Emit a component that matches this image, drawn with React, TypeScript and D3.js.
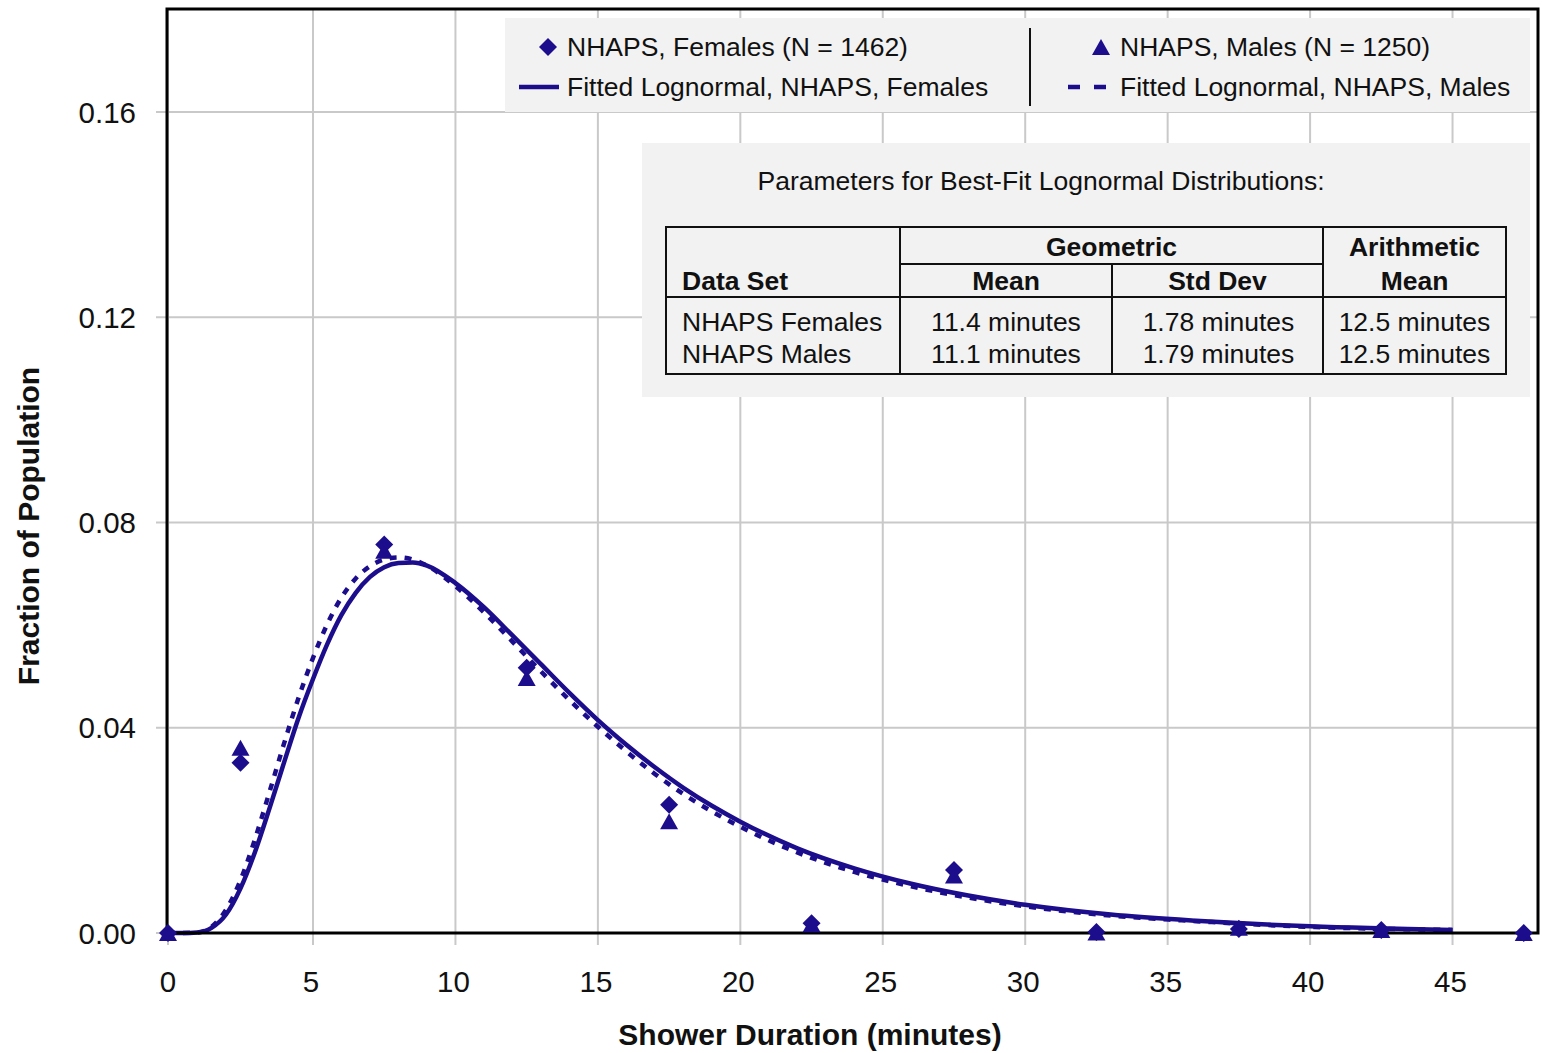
import React from "react";
import * as d3 from "d3";

// ---- data ----
const binMinutes = [0, 2.5, 7.5, 12.5, 17.5, 22.5, 27.5, 32.5, 37.5, 42.5, 47.5];
const femaleFractions = [0.0, 0.0332, 0.0757, 0.0517, 0.025, 0.0019, 0.0123, 0.0002, 0.0008, 0.0006, 0.0];
const maleFractions = [0.0, 0.0361, 0.0745, 0.0497, 0.0218, 0.0017, 0.0112, 0.0001, 0.001, 0.0006, 0.0];

const curveMinutes = [0, 0.5, 1, 1.5, 2, 2.5, 3, 3.5, 4, 4.5, 5, 5.5, 6, 6.5, 7, 7.5, 8, 8.5, 9, 10, 11, 12, 13, 14, 15, 16, 17, 18, 19, 20, 22, 24, 26, 28, 30, 33, 36, 40, 45];
const femaleFit = [0, 0, 0.0001, 0.001, 0.0036, 0.0087, 0.0158, 0.0243, 0.0332, 0.0419, 0.0495, 0.0563, 0.062, 0.0663, 0.0694, 0.0713, 0.0721, 0.0722, 0.0716, 0.0682, 0.0635, 0.058, 0.0524, 0.0468, 0.0415, 0.0367, 0.0323, 0.0283, 0.0248, 0.0217, 0.0165, 0.0126, 0.0096, 0.0073, 0.0055, 0.0036, 0.0024, 0.0013, 0.0006];
const maleFit = [0, 0, 0.0001, 0.0012, 0.0045, 0.0103, 0.0183, 0.0275, 0.0369, 0.0458, 0.0536, 0.0602, 0.0654, 0.0691, 0.0715, 0.0728, 0.0732, 0.0728, 0.0716, 0.0676, 0.0625, 0.0568, 0.051, 0.0454, 0.0402, 0.0354, 0.031, 0.0271, 0.0237, 0.0207, 0.0157, 0.0119, 0.0091, 0.0069, 0.0052, 0.0034, 0.0023, 0.0012, 0.0006];

const xTicks = [0, 5, 10, 15, 20, 25, 30, 35, 40, 45];
const yTicks = [0, 0.04, 0.08, 0.12, 0.16];

const legendLabels = [
  "NHAPS, Females (N = 1462)",
  "Fitted Lognormal, NHAPS, Females",
  "NHAPS, Males (N = 1250)",
  "Fitted Lognormal, NHAPS, Males",
];

const tableTitle = "Parameters for Best-Fit Lognormal Distributions:";
const tableRows = [
  ["NHAPS Females", "11.4 minutes", "1.78 minutes", "12.5 minutes"],
  ["NHAPS Males", "11.1 minutes", "1.79 minutes", "12.5 minutes"],
];

// ---- styling ----
const W = 1542;
const H = 1053;
const plot = { left: 167, right: 1538, top: 9, bottom: 933 };
const BLUE = "#1c0d8c";
const GRID = "#c9c9c9";
const FONT = "'Liberation Sans', Arial, Helvetica, sans-serif";

// marker shapes (centred on the data point)
const DIAMOND = "M0,-9L9,0L0,9L-9,0Z";
const TRIANGLE = "M0,-8L9,8L-9,8Z";

export default function App() {
  const x = d3.scaleLinear().domain([0, 5, 48]).range([168, 313, plot.right]);
  const y = d3.scaleLinear().domain([0, 0.18]).range([plot.bottom, plot.top + 0.5]);

  const lineGen = (vals: number[]) =>
    d3
      .line<number>()
      .x((_, i) => x(curveMinutes[i]))
      .y((d) => y(d))
      .curve(d3.curveMonotoneX)(vals) || "";

  // table geometry
  const tX = [666, 900, 1112, 1323, 1506];
  const tY = [227, 264, 297, 374];

  return (
    <svg
      width={W}
      height={H}
      style={{ position: "absolute", left: 0, top: 0, background: "#fff" }}
      fontFamily={FONT}
    >
      {/* grid + ticks */}
      {xTicks.map((t) => (
        <line key={"gx" + t} x1={x(t)} x2={x(t)} y1={plot.top} y2={plot.bottom + 12} stroke={GRID} strokeWidth={2} />
      ))}
      {yTicks.map((t) => (
        <line key={"gy" + t} x1={plot.left - 11} x2={plot.right} y1={y(t)} y2={y(t)} stroke={GRID} strokeWidth={2} />
      ))}

      {/* tick labels */}
      {xTicks.map((t) => (
        <text key={"xl" + t} x={x(t) - (t > 0 ? 2 : 0)} y={981} textAnchor="middle" dominantBaseline="central" fontSize={29.5} fill="#111">
          {t}
        </text>
      ))}
      {yTicks.map((t) => (
        <text key={"yl" + t} x={136} y={y(t)} textAnchor="end" dominantBaseline="central" fontSize={29.5} fill="#111">
          {d3.format(".2f")(t)}
        </text>
      ))}

      {/* axis titles */}
      <text x={810} y={1034} textAnchor="middle" dominantBaseline="central" fontSize={30} fontWeight="bold" fill="#111">
        Shower Duration (minutes)
      </text>
      <text
        transform={`translate(28,526) rotate(-90)`}
        textAnchor="middle"
        dominantBaseline="central"
        fontSize={30}
        fontWeight="bold"
        fill="#111"
      >
        Fraction of Population
      </text>

      {/* fitted curves */}
      <path d={lineGen(maleFit)} fill="none" stroke={BLUE} strokeWidth={4.5} strokeDasharray="7 8" />
      <path d={lineGen(femaleFit)} fill="none" stroke={BLUE} strokeWidth={4.5} />

      {/* frame */}
      <rect
        x={plot.left}
        y={plot.top}
        width={plot.right - plot.left}
        height={plot.bottom - plot.top}
        fill="none"
        stroke="#000"
        strokeWidth={3}
      />

      {/* markers */}
      {binMinutes.map((m, i) => (
        <path key={"m" + i} d={TRIANGLE} transform={`translate(${x(m)},${y(maleFractions[i])})`} fill={BLUE} />
      ))}
      {binMinutes.map((m, i) => (
        <path key={"f" + i} d={DIAMOND} transform={`translate(${x(m)},${y(femaleFractions[i])})`} fill={BLUE} />
      ))}

      {/* legend */}
      <rect x={505} y={18} width={1025} height={94} fill="#f2f2f2" />
      <path d={DIAMOND} transform="translate(548,47)" fill={BLUE} />
      <text x={567} y={47} dominantBaseline="central" fontSize={26.5} fill="#111">
        {legendLabels[0]}
      </text>
      <line x1={519} x2={559} y1={87} y2={87} stroke={BLUE} strokeWidth={4.5} />
      <text x={567} y={87} dominantBaseline="central" fontSize={26.5} fill="#111">
        {legendLabels[1]}
      </text>
      <line x1={1030} x2={1030} y1={28} y2={106} stroke="#111" strokeWidth={2} />
      <path d={TRIANGLE} transform="translate(1101,47)" fill={BLUE} />
      <text x={1120} y={47} dominantBaseline="central" fontSize={26.5} fill="#111">
        {legendLabels[2]}
      </text>
      <line x1={1068} x2={1114} y1={87} y2={87} stroke={BLUE} strokeWidth={4.5} strokeDasharray="12 14" />
      <text x={1120} y={87} dominantBaseline="central" fontSize={26.5} fill="#111">
        {legendLabels[3]}
      </text>

      {/* parameter table */}
      <rect x={642} y={143} width={888} height={254} fill="#f2f2f2" />
      <text x={1041} y={181} textAnchor="middle" dominantBaseline="central" fontSize={26.5} fill="#111">
        {tableTitle}
      </text>
      <g stroke="#111" strokeWidth={2} fill="none">
        <rect x={tX[0]} y={tY[0]} width={tX[4] - tX[0]} height={tY[3] - tY[0]} />
        <line x1={tX[1]} x2={tX[1]} y1={tY[0]} y2={tY[3]} />
        <line x1={tX[2]} x2={tX[2]} y1={tY[1]} y2={tY[3]} />
        <line x1={tX[3]} x2={tX[3]} y1={tY[0]} y2={tY[3]} />
        <line x1={tX[1]} x2={tX[3]} y1={tY[1]} y2={tY[1]} />
        <line x1={tX[0]} x2={tX[4]} y1={tY[2]} y2={tY[2]} />
      </g>
      <g fontSize={26.5} fill="#111" dominantBaseline="central">
        <text x={(tX[1] + tX[3]) / 2} y={247} textAnchor="middle" fontWeight="bold">Geometric</text>
        <text x={(tX[3] + tX[4]) / 2} y={247} textAnchor="middle" fontWeight="bold">Arithmetic</text>
        <text x={682} y={281} fontWeight="bold">Data Set</text>
        <text x={(tX[1] + tX[2]) / 2} y={281} textAnchor="middle" fontWeight="bold">Mean</text>
        <text x={(tX[2] + tX[3]) / 2} y={281} textAnchor="middle" fontWeight="bold">Std Dev</text>
        <text x={(tX[3] + tX[4]) / 2} y={281} textAnchor="middle" fontWeight="bold">Mean</text>
        {tableRows.map((row, r) => (
          <g key={"row" + r}>
            <text x={682} y={322 + r * 32}>{row[0]}</text>
            <text x={(tX[1] + tX[2]) / 2} y={322 + r * 32} textAnchor="middle">{row[1]}</text>
            <text x={(tX[2] + tX[3]) / 2 + 1} y={322 + r * 32} textAnchor="middle">{row[2]}</text>
            <text x={(tX[3] + tX[4]) / 2} y={322 + r * 32} textAnchor="middle">{row[3]}</text>
          </g>
        ))}
      </g>
    </svg>
  );
}
